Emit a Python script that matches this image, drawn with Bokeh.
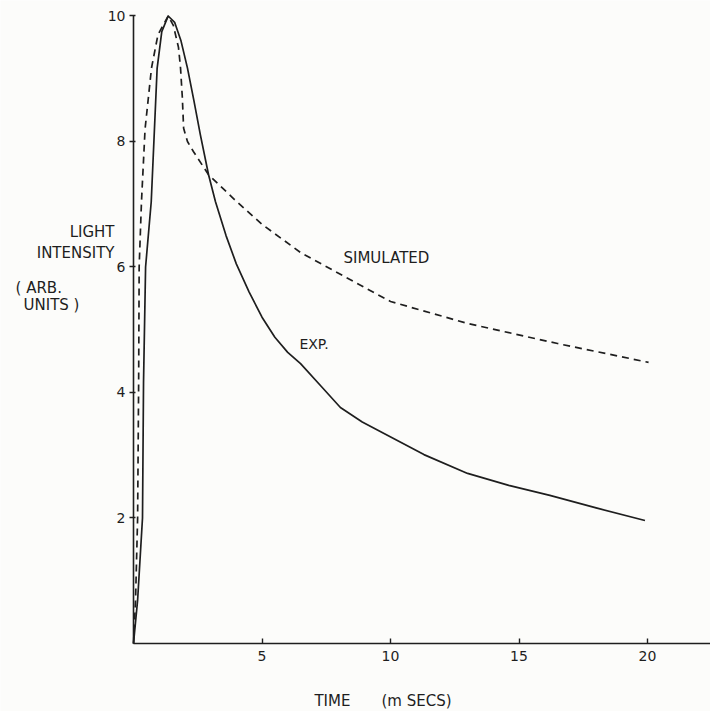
from bokeh.plotting import figure
from bokeh.models import FixedTicker, Label, Range1d
from bokeh.embed import file_html
from bokeh.resources import INLINE

# Experimental curve (time in ms, intensity in arbitrary units)
exp_t = [0, 0.16, 0.35, 0.39, 0.47, 0.69, 0.92, 1.1, 1.35, 1.6, 1.85, 2.1, 2.35, 2.6, 2.92, 3.19, 3.6, 4.0, 4.5, 5.0, 5.5, 6.0, 6.5,
         7.3, 8.05, 8.9, 9.73, 11.3, 13.0, 14.6, 16.2, 18.0, 19.9]
exp_i = [0, 0.69, 2.0, 4.16, 6.0, 7.04, 9.17, 9.75, 10.0, 9.9, 9.6, 9.17, 8.65, 8.11, 7.47, 7.04, 6.5, 6.05, 5.6, 5.2, 4.88, 4.64, 4.46,
         4.1, 3.76, 3.53, 3.35, 3.01, 2.71, 2.52, 2.36, 2.16, 1.96]

# Simulated curve
sim_t = [0, 0.08, 0.16, 0.2, 0.22, 0.31, 0.45, 0.7, 0.95, 1.35, 1.55, 1.75, 1.83, 1.9, 1.95, 2.1, 2.33, 2.92, 3.89, 4.4, 5.0,
         6.5, 8.33, 10.0, 13.0, 16.5, 20.04]
sim_i = [0, 0.7, 2.0, 4.16, 6.0, 7.04, 8.2, 9.17, 9.7, 10.0, 9.85, 9.5, 9.17, 8.7, 8.21, 8.0, 7.84, 7.47, 7.09, 6.9, 6.68,
         6.23, 5.82, 5.45, 5.1, 4.78, 4.48]

x_ticks = [5, 10, 15, 20]
y_ticks = [2, 4, 6, 8, 10]

INK = "#1e1e1e"
FONT = "DejaVu Sans"
BG = "#fcfcfa"

p = figure(width=710, height=711, output_backend="svg", toolbar_location=None, title=None,
           x_range=Range1d(-5.175, 22.45), y_range=Range1d(-1.084, 10.247),
           min_border_left=0, min_border_right=0, min_border_top=0, min_border_bottom=0,
           background_fill_color=BG, border_fill_color=BG)
p.outline_line_color = None
p.grid.visible = False

p.line(exp_t, exp_i, line_color=INK, line_width=1.7, line_join="round")
p.line(sim_t, sim_i, line_color=INK, line_width=1.7, line_dash="7 5", line_join="round")

for ax in (p.xaxis[0], p.yaxis[0]):
    ax.fixed_location = 0
    ax.axis_line_color = INK
    ax.axis_line_width = 1.6
    ax.major_tick_line_color = INK
    ax.major_tick_line_width = 1.4
    ax.minor_tick_line_color = None
    ax.major_label_text_font = FONT
    ax.major_label_text_font_size = "14px"
    ax.major_label_text_color = INK

p.xaxis.ticker = FixedTicker(ticks=x_ticks)
p.xaxis.bounds = (0, 22.45)
p.xaxis.major_tick_in = 5
p.xaxis.major_tick_out = 0
p.xaxis.major_label_standoff = 8

p.yaxis.ticker = FixedTicker(ticks=y_ticks)
p.yaxis.bounds = (0, 10)
p.yaxis.major_tick_in = 2
p.yaxis.major_tick_out = 4
p.yaxis.major_label_standoff = 4

def lab(x, y, t, size="14px", align="left"):
    p.add_layout(Label(x=x, y=y, text=t, text_font=FONT, text_font_size=size,
                       text_color=INK, text_align=align, text_baseline="middle"))

# curve annotations
lab(8.17, 6.15, "SIMULATED", "15px")
lab(7.59, 4.78, "EXP.", "14px", "right")

# y-axis title (horizontal, multi-line)
lab(-0.74, 6.55, "LIGHT", "15px", "right")
lab(-0.74, 6.22, "INTENSITY", "15px", "right")
lab(-4.59, 5.66, "( ARB.", "15px")
lab(-4.28, 5.39, "UNITS )", "15px")

# x-axis title
lab(7.04, -0.91, "TIME", "15px")
lab(9.65, -0.91, "(m SECS)", "15px")

open("out.html", "w").write(file_html(p, INLINE))
